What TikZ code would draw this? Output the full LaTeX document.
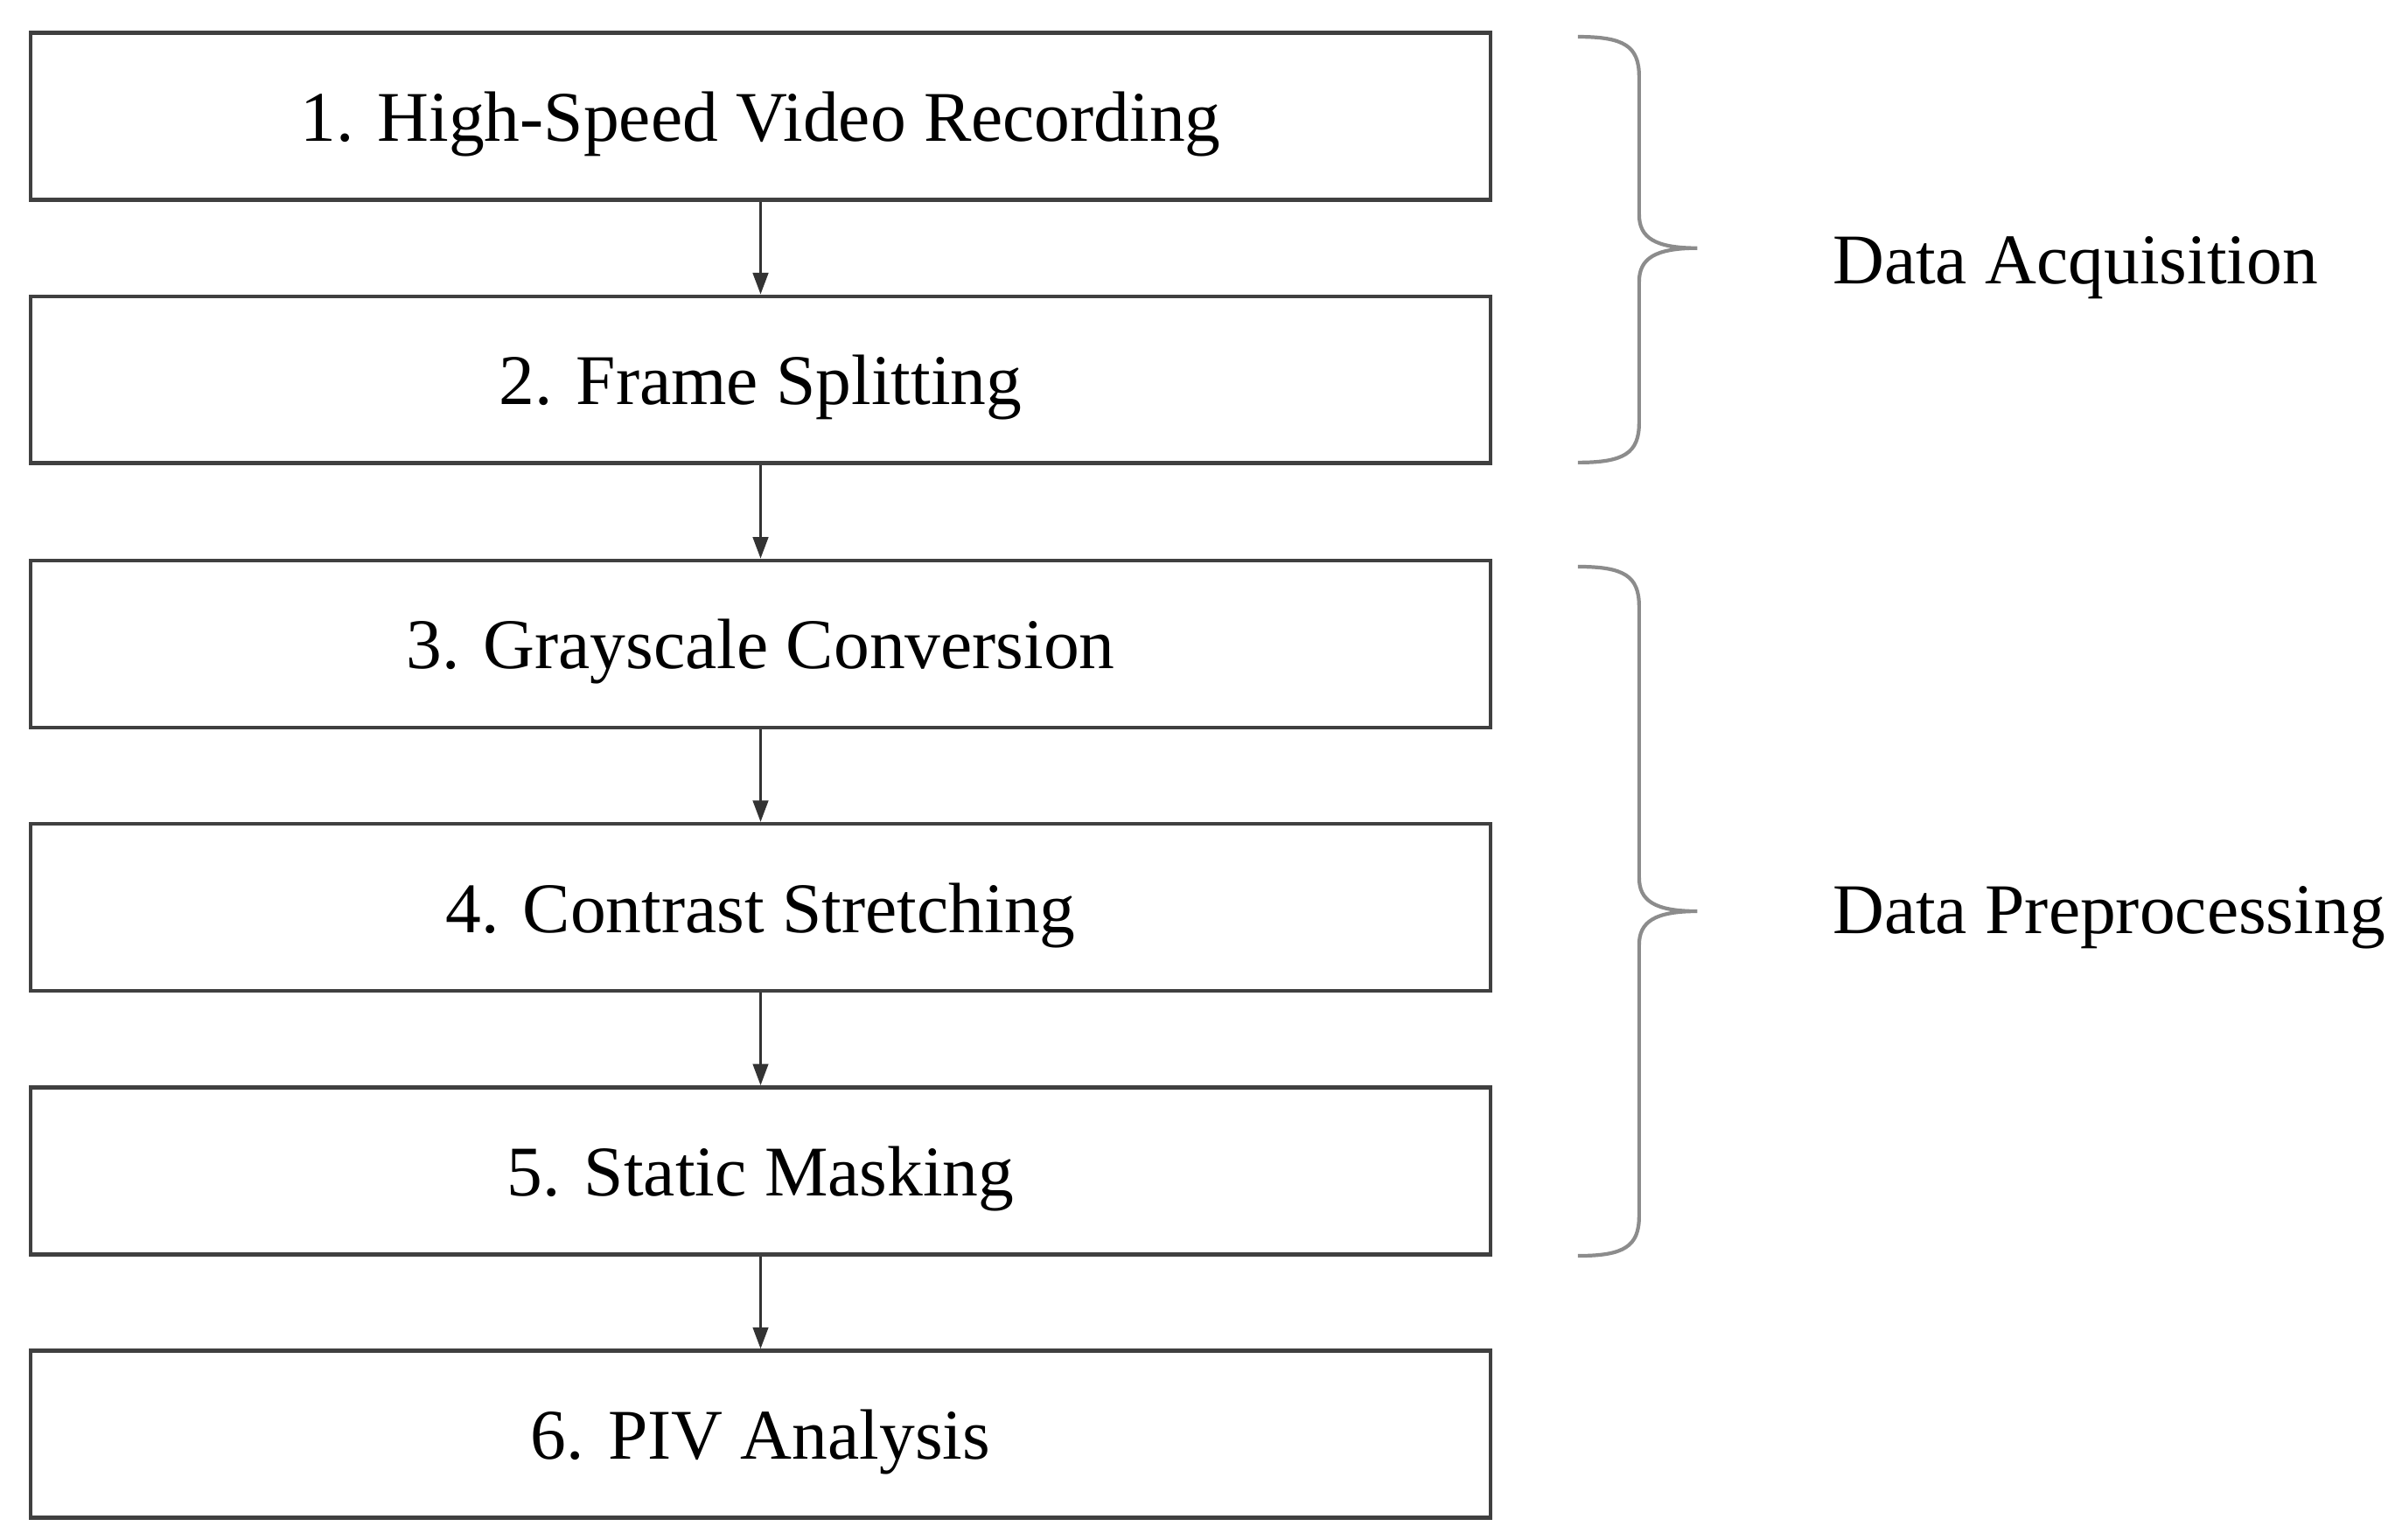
\documentclass[tikz,border=0pt]{standalone}
\usepackage{fontspec}
\setmainfont{Liberation Serif}
\usetikzlibrary{arrows.meta}
\begin{document}
\begin{tikzpicture}[x=0.01751cm,y=-0.01751cm,
  box/.style={draw=black!75,line width=1.3pt,minimum width=953*0.01751cm,minimum height=109*0.01751cm,inner sep=0pt},
  txt/.style={font=\fontsize{23.2}{27}\selectfont,inner sep=0pt},
  arr/.style={draw=black!80,line width=0.8pt,-{Triangle[length=7pt,width=5pt]}},
  brace/.style={draw=black!45,line width=1.2pt},
  lab/.style={anchor=west,inner sep=0pt,font=\fontsize{23.2}{27}\selectfont}]
\useasboundingbox (0,0) rectangle (1568,1005);
\node[box] (b1) at (496.5,76) {};
\node[box] (b2) at (496.5,248) {};
\node[box] (b3) at (496.5,420.5) {};
\node[box] (b4) at (496.5,592.5) {};
\node[box] (b5) at (496.5,764.5) {};
\node[box] (b6) at (496.5,936.5) {};
\node[txt] (t1) at ([yshift=-0.09cm]b1.center) {1. High-Speed Video Recording};
\node[txt] (t2) at ([yshift=-0.09cm]b2.center) {2. Frame Splitting};
\node[txt] (t3) at ([yshift=-0.09cm]b3.center) {3. Grayscale Conversion};
\node[txt] (t4) at ([yshift=-0.09cm]b4.center) {4. Contrast Stretching};
\node[txt] (t5) at ([yshift=-0.09cm]b5.center) {5. Static Masking};
\node[txt] (t6) at ([yshift=-0.09cm]b6.center) {6. PIV Analysis};
\foreach \a/\b in {b1/b2,b2/b3,b3/b4,b4/b5,b5/b6}
  \draw[arr] (\a.south) -- (\b.north);
\coordinate (s1) at (1030,24); \coordinate (e1) at (1030,302);
\draw[brace] (s1) .. controls (1060,24) and (1070,30) .. (1070,50) -- (1070,140)
  .. controls (1070,155) and (1080,162) .. (1108,162)
  .. controls (1080,162) and (1070,169) .. (1070,184) -- (1070,276)
  .. controls (1070,296) and (1060,302) .. (e1);
\coordinate (s2) at (1030,370); \coordinate (e2) at (1030,820);
\draw[brace] (s2) .. controls (1060,370) and (1070,376) .. (1070,396) -- (1070,573)
  .. controls (1070,588) and (1080,595) .. (1108,595)
  .. controls (1080,595) and (1070,602) .. (1070,617) -- (1070,794)
  .. controls (1070,814) and (1060,820) .. (e2);
\node[lab] (l1) at (1196,175) {Data Acquisition};
\node[lab] (l2) at (1196,599) {Data Preprocessing};
\end{tikzpicture}
\end{document}
